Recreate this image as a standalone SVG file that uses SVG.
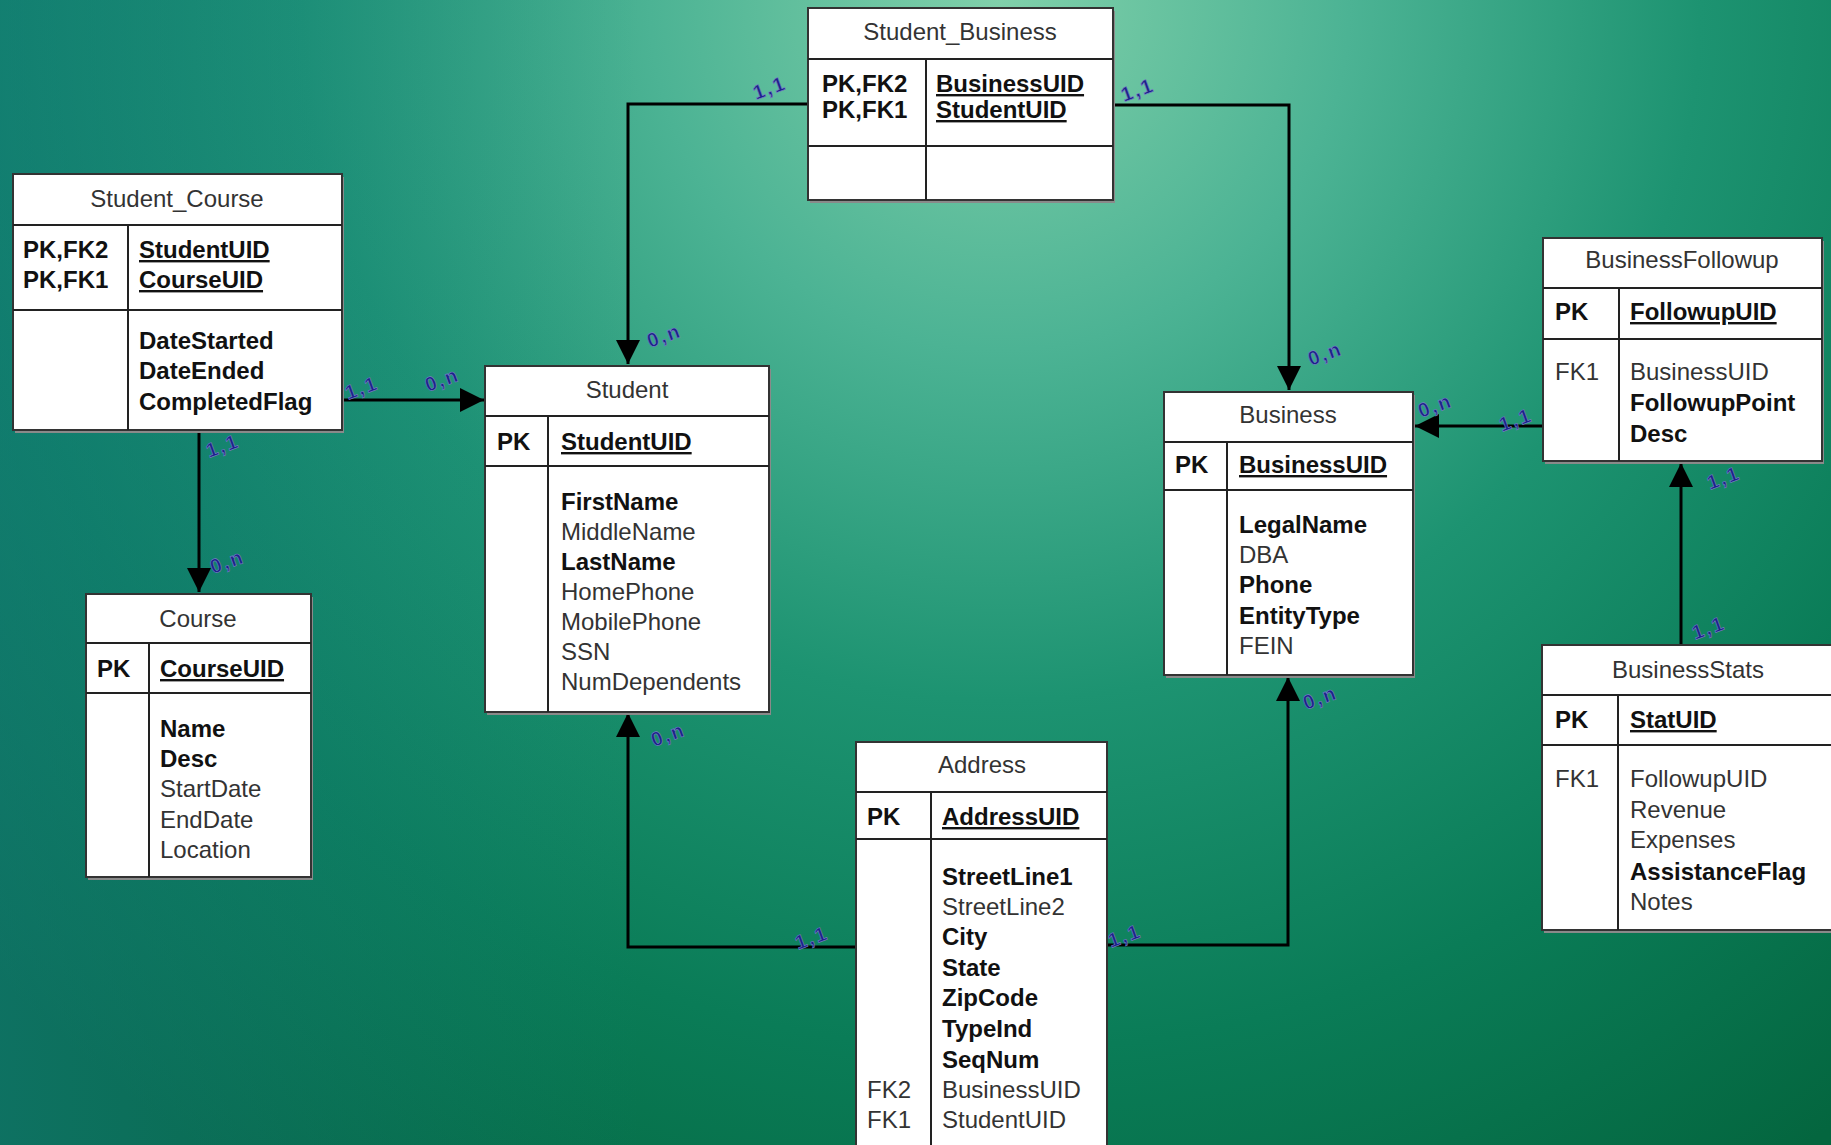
<svg xmlns="http://www.w3.org/2000/svg" width="1831" height="1145" viewBox="0 0 1831 1145">
<defs>
<radialGradient id="bg" gradientUnits="userSpaceOnUse" cx="1000" cy="0" r="1400">
<stop offset="0" stop-color="#80d0aa"/>
<stop offset="0.25" stop-color="#4cb394"/>
<stop offset="0.5" stop-color="#1d9371"/>
<stop offset="0.75" stop-color="#0a7c57"/>
<stop offset="1" stop-color="#04663f"/>
</radialGradient>
<linearGradient id="tint" x1="0" y1="0" x2="1" y2="0">
<stop offset="0" stop-color="#1a7f8c" stop-opacity="0.45"/>
<stop offset="0.35" stop-color="#1a7f8c" stop-opacity="0"/>
</linearGradient>
<marker id="arr" markerUnits="userSpaceOnUse" markerWidth="26" markerHeight="26" refX="24" refY="12" orient="auto">
<path d="M0,0 L24,12 L0,24 z" fill="#000"/>
</marker>
<style>
.box{fill:#fff;stroke:#333;stroke-width:2}
.sh{fill:#8a8a8a}
.ln{stroke:#222;stroke-width:2;fill:none}
.t{font-family:"Liberation Sans",Arial,sans-serif;font-size:24px;fill:#333}
.ttl{text-anchor:middle;fill:#333}
.b{font-weight:bold;fill:#111}
.u{text-decoration:underline}
.con{stroke:#000;stroke-width:3;fill:none}
.card{font-family:"Liberation Sans",Arial,sans-serif;font-size:20px;font-weight:bold;fill:#1c2288;letter-spacing:2px;stroke:#7a7fc8;stroke-width:0.6}
</style>
</defs>
<rect x="0" y="0" width="1831" height="1145" fill="url(#bg)"/>
<rect x="0" y="0" width="1831" height="1145" fill="url(#tint)"/>

<g id="connectors">
<path class="con" d="M808,104 H628 V364" marker-end="url(#arr)"/>
<path class="con" d="M1113,105 H1289 V390" marker-end="url(#arr)"/>
<path class="con" d="M342,400 H484" marker-end="url(#arr)"/>
<path class="con" d="M199,430 V592" marker-end="url(#arr)"/>
<path class="con" d="M856,947 H628 V713" marker-end="url(#arr)"/>
<path class="con" d="M1107,945 H1288 V677" marker-end="url(#arr)"/>
<path class="con" d="M1543,426 H1415" marker-end="url(#arr)"/>
<path class="con" d="M1681,645 V463" marker-end="url(#arr)"/>
<text class="card" x="756" y="100" transform="rotate(-20 756 100)">1,1</text>
<text class="card" x="650" y="348" transform="rotate(-20 650 348)">0,n</text>
<text class="card" x="1124" y="102" transform="rotate(-20 1124 102)">1,1</text>
<text class="card" x="1311" y="366" transform="rotate(-20 1311 366)">0,n</text>
<text class="card" x="348" y="400" transform="rotate(-20 348 400)">1,1</text>
<text class="card" x="428" y="392" transform="rotate(-20 428 392)">0,n</text>
<text class="card" x="209" y="458" transform="rotate(-20 209 458)">1,1</text>
<text class="card" x="213" y="574" transform="rotate(-20 213 574)">0,n</text>
<text class="card" x="798" y="950" transform="rotate(-20 798 950)">1,1</text>
<text class="card" x="654" y="747" transform="rotate(-20 654 747)">0,n</text>
<text class="card" x="1111" y="948" transform="rotate(-20 1111 948)">1,1</text>
<text class="card" x="1306" y="710" transform="rotate(-20 1306 710)">0,n</text>
<text class="card" x="1502" y="432" transform="rotate(-20 1502 432)">1,1</text>
<text class="card" x="1421" y="418" transform="rotate(-20 1421 418)">0,n</text>
<text class="card" x="1695" y="640" transform="rotate(-20 1695 640)">1,1</text>
<text class="card" x="1710" y="490" transform="rotate(-20 1710 490)">1,1</text>
</g>

<g id="Student_Business">
<rect class="sh" x="810" y="11" width="305" height="192"/>
<rect class="box" x="808" y="8" width="305" height="192"/>
<line class="ln" x1="808" y1="59" x2="1113" y2="59"/>
<line class="ln" x1="808" y1="146" x2="1113" y2="146"/>
<line class="ln" x1="926" y1="59" x2="926" y2="200"/>
<text class="t ttl" x="960" y="40">Student_Business</text>
<text class="t b" x="822" y="92">PK,FK2</text>
<text class="t b" x="822" y="118">PK,FK1</text>
<text class="t b u" x="936" y="92">BusinessUID</text>
<text class="t b u" x="936" y="118">StudentUID</text>
</g>

<g id="Student_Course">
<rect class="sh" x="15" y="177" width="329" height="256"/>
<rect class="box" x="13" y="174" width="329" height="256"/>
<line class="ln" x1="13" y1="225" x2="342" y2="225"/>
<line class="ln" x1="13" y1="310" x2="342" y2="310"/>
<line class="ln" x1="128" y1="225" x2="128" y2="430"/>
<text class="t ttl" x="177" y="207">Student_Course</text>
<text class="t b" x="23" y="258">PK,FK2</text>
<text class="t b" x="23" y="288">PK,FK1</text>
<text class="t b u" x="139" y="258">StudentUID</text>
<text class="t b u" x="139" y="288">CourseUID</text>
<text class="t b" x="139" y="349">DateStarted</text>
<text class="t b" x="139" y="379">DateEnded</text>
<text class="t b" x="139" y="410">CompletedFlag</text>
</g>

<g id="Student">
<rect class="sh" x="487" y="369" width="284" height="346"/>
<rect class="box" x="485" y="366" width="284" height="346"/>
<line class="ln" x1="485" y1="416" x2="769" y2="416"/>
<line class="ln" x1="485" y1="466" x2="769" y2="466"/>
<line class="ln" x1="548" y1="416" x2="548" y2="712"/>
<text class="t ttl" x="627" y="398">Student</text>
<text class="t b" x="497" y="450">PK</text>
<text class="t b u" x="561" y="450">StudentUID</text>
<text class="t b" x="561" y="510">FirstName</text>
<text class="t" x="561" y="540">MiddleName</text>
<text class="t b" x="561" y="570">LastName</text>
<text class="t" x="561" y="600">HomePhone</text>
<text class="t" x="561" y="630">MobilePhone</text>
<text class="t" x="561" y="660">SSN</text>
<text class="t" x="561" y="690">NumDependents</text>
</g>

<g id="Course">
<rect class="sh" x="88" y="597" width="225" height="283"/>
<rect class="box" x="86" y="594" width="225" height="283"/>
<line class="ln" x1="86" y1="643" x2="311" y2="643"/>
<line class="ln" x1="86" y1="693" x2="311" y2="693"/>
<line class="ln" x1="149" y1="643" x2="149" y2="877"/>
<text class="t ttl" x="198" y="627">Course</text>
<text class="t b" x="97" y="677">PK</text>
<text class="t b u" x="160" y="677">CourseUID</text>
<text class="t b" x="160" y="737">Name</text>
<text class="t b" x="160" y="767">Desc</text>
<text class="t" x="160" y="797">StartDate</text>
<text class="t" x="160" y="828">EndDate</text>
<text class="t" x="160" y="858">Location</text>
</g>

<g id="Business">
<rect class="sh" x="1166" y="395" width="249" height="283"/>
<rect class="box" x="1164" y="392" width="249" height="283"/>
<line class="ln" x1="1164" y1="442" x2="1413" y2="442"/>
<line class="ln" x1="1164" y1="490" x2="1413" y2="490"/>
<line class="ln" x1="1227" y1="442" x2="1227" y2="675"/>
<text class="t ttl" x="1288" y="423">Business</text>
<text class="t b" x="1175" y="473">PK</text>
<text class="t b u" x="1239" y="473">BusinessUID</text>
<text class="t b" x="1239" y="533">LegalName</text>
<text class="t" x="1239" y="563">DBA</text>
<text class="t b" x="1239" y="593">Phone</text>
<text class="t b" x="1239" y="624">EntityType</text>
<text class="t" x="1239" y="654">FEIN</text>
</g>

<g id="BusinessFollowup">
<rect class="sh" x="1545" y="241" width="279" height="223"/>
<rect class="box" x="1543" y="238" width="279" height="223"/>
<line class="ln" x1="1543" y1="288" x2="1822" y2="288"/>
<line class="ln" x1="1543" y1="339" x2="1822" y2="339"/>
<line class="ln" x1="1619" y1="288" x2="1619" y2="461"/>
<text class="t ttl" x="1682" y="268">BusinessFollowup</text>
<text class="t b" x="1555" y="320">PK</text>
<text class="t b u" x="1630" y="320">FollowupUID</text>
<text class="t" x="1555" y="380">FK1</text>
<text class="t" x="1630" y="380">BusinessUID</text>
<text class="t b" x="1630" y="411">FollowupPoint</text>
<text class="t b" x="1630" y="442">Desc</text>
</g>

<g id="BusinessStats">
<rect class="sh" x="1544" y="648" width="300" height="285"/>
<rect class="box" x="1542" y="645" width="300" height="285"/>
<line class="ln" x1="1542" y1="695" x2="1842" y2="695"/>
<line class="ln" x1="1542" y1="745" x2="1842" y2="745"/>
<line class="ln" x1="1618" y1="695" x2="1618" y2="930"/>
<text class="t ttl" x="1688" y="678">BusinessStats</text>
<text class="t b" x="1555" y="728">PK</text>
<text class="t b u" x="1630" y="728">StatUID</text>
<text class="t" x="1555" y="787">FK1</text>
<text class="t" x="1630" y="787">FollowupUID</text>
<text class="t" x="1630" y="818">Revenue</text>
<text class="t" x="1630" y="848">Expenses</text>
<text class="t b" x="1630" y="880">AssistanceFlag</text>
<text class="t" x="1630" y="910">Notes</text>
</g>

<g id="Address">
<rect class="box" x="856" y="742" width="251" height="420"/>
<line class="ln" x1="856" y1="792" x2="1107" y2="792"/>
<line class="ln" x1="856" y1="839" x2="1107" y2="839"/>
<line class="ln" x1="931" y1="792" x2="931" y2="1150"/>
<text class="t ttl" x="982" y="773">Address</text>
<text class="t b" x="867" y="825">PK</text>
<text class="t b u" x="942" y="825">AddressUID</text>
<text class="t b" x="942" y="885">StreetLine1</text>
<text class="t" x="942" y="915">StreetLine2</text>
<text class="t b" x="942" y="945">City</text>
<text class="t b" x="942" y="976">State</text>
<text class="t b" x="942" y="1006">ZipCode</text>
<text class="t b" x="942" y="1037">TypeInd</text>
<text class="t b" x="942" y="1068">SeqNum</text>
<text class="t" x="867" y="1098">FK2</text>
<text class="t" x="942" y="1098">BusinessUID</text>
<text class="t" x="867" y="1128">FK1</text>
<text class="t" x="942" y="1128">StudentUID</text>
</g>
</svg>
